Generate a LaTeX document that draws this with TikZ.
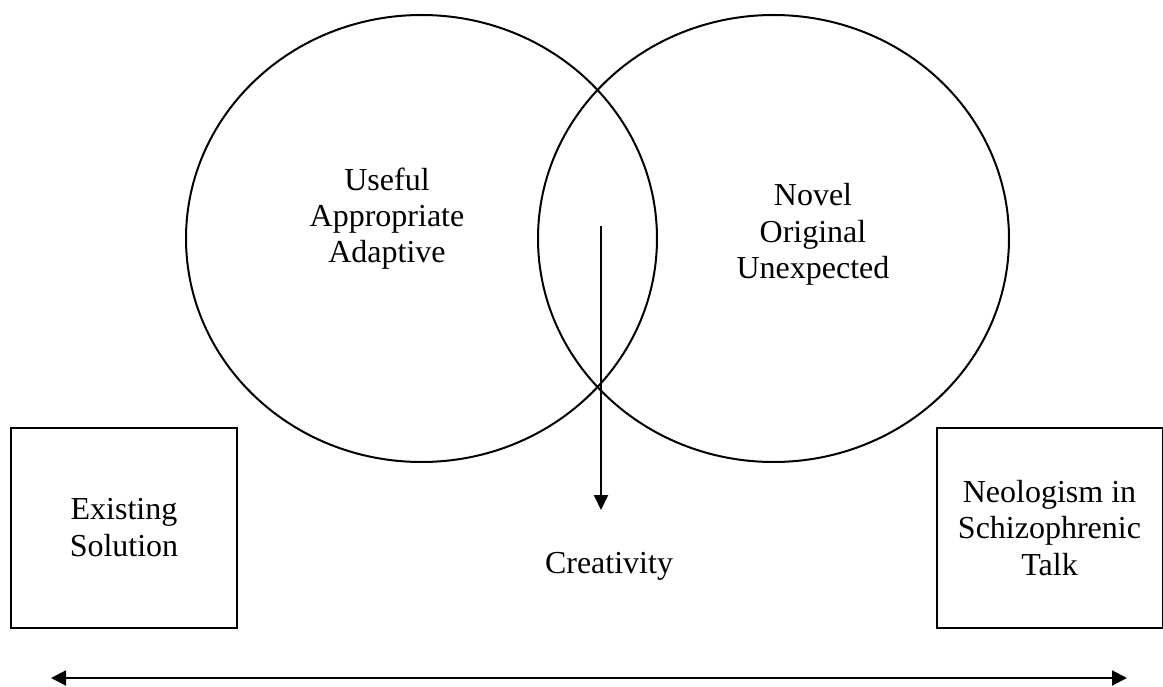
\documentclass[tikz,border=0pt]{standalone}
\usepackage{fontspec}
\setmainfont{Liberation Serif}
\usetikzlibrary{shapes.geometric,arrows.meta}
\begin{document}
\begin{tikzpicture}[x=1pt,y=1pt,
  txt/.style={font=\fontsize{32}{36.5}\selectfont, align=center, inner sep=0pt},
  ring/.style={draw, line width=2pt, ellipse, minimum width=471pt, minimum height=447pt, inner sep=0pt},
  endbox/.style={draw, line width=2pt, rectangle, minimum width=226pt, minimum height=200pt, inner sep=0pt, font=\fontsize{32}{36.5}\selectfont, align=center},
  arr/.style={line width=2pt, -{Triangle[length=15pt,width=14pt]}},
  darr/.style={line width=2pt, {Triangle[length=15pt,width=15pt]}-{Triangle[length=15pt,width=15pt]}}]
\useasboundingbox (0,0) rectangle (1163,-687);
\node[ring] (useful) at (421.5,-238.5) {};
\node[ring] (novel) at (773.5,-238.5) {};
\node[txt, anchor=base] (utext) at (387,-263) {Useful\\Appropriate\\Adaptive};
\node[txt, anchor=base] (ntext) at (813,-279) {Novel\\Original\\Unexpected};
\node[endbox] (exist) at (124,-527.5) {Existing\\Solution};
\node[endbox] (neo) at (1049.5,-528) {Neologism in\\Schizophrenic\\Talk};
\node[txt, anchor=base] (creat) at (609,-573) {Creativity};
\coordinate (atop) at (601,-226);
\coordinate (abot) at (601,-510);
\draw[arr] (atop) -- (abot);
\coordinate (lend) at (51,-678);
\coordinate (rend) at (1127,-678);
\draw[darr] (lend) -- (rend);
\end{tikzpicture}
\end{document}
